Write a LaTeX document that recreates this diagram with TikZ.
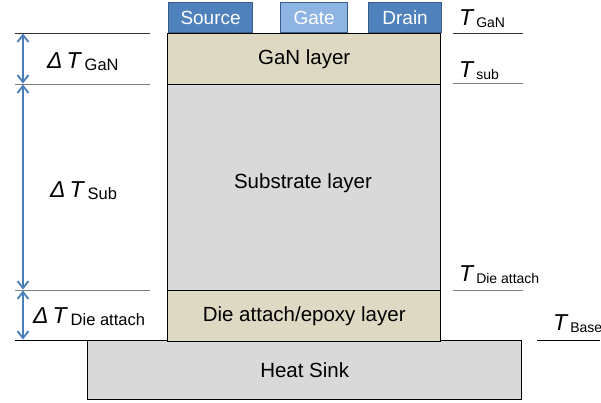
\documentclass[tikz,border=0pt]{standalone}
\usepackage{fontspec}
\setmainfont{Liberation Sans}
\usetikzlibrary{arrows.meta}
\definecolor{tanc}{HTML}{DDD9C3}
\definecolor{lgray}{HTML}{D9D9D9}
\definecolor{metal}{HTML}{4F81BD}
\definecolor{metalb}{HTML}{385D8A}
\definecolor{gatec}{HTML}{8DB4E2}
\definecolor{arrowc}{HTML}{4A7EBB}
\definecolor{linec}{HTML}{555555}
\newcommand{\Tlab}[1]{{\fontsize{23}{23}\selectfont\itshape T}\hspace{3pt}\raisebox{-2.5pt}{\fontsize{14}{14}\selectfont #1}}
\newcommand{\dTlab}[1]{{\fontsize{23}{23}\selectfont\itshape Δ\hspace{4pt}T}\hspace{4pt}\raisebox{-2.5pt}{\fontsize{16.5}{16.5}\selectfont #1}}
\tikzset{
  layer/.style={draw=black, line width=1.4pt, rectangle, inner sep=0pt, anchor=north west, font=\fontsize{20.5}{20.5}\selectfont},
  pad/.style={draw=metalb, line width=1.2pt, fill=metal, rectangle, inner sep=0pt, anchor=north west, text=white, font=\fontsize{19}{19}\selectfont},
  lev/.style={draw=linec, line width=1pt},
  dim/.style={draw=arrowc, line width=1.8pt, {Straight Barb[length=7pt,width=11pt,line width=1.8pt]}-{Straight Barb[length=7pt,width=11pt,line width=1.8pt]}, shorten <=0.5pt, shorten >=0.5pt},
  lab/.style={anchor=base west, inner sep=0pt}
}
\begin{document}
\begin{tikzpicture}[x=1pt,y=-1pt]
\useasboundingbox (0,0) rectangle (601,402);
% layers
\node[layer, fill=lgray, minimum width=434pt, minimum height=59pt] (hs) at (87,340) {Heat Sink};
\node[layer, fill=tanc, minimum width=273pt, minimum height=51pt] (gan) at (167,33) {GaN layer};
\node[layer, fill=lgray, minimum width=273pt, minimum height=206pt] (sub) at (167,84) {};
\node[font=\fontsize{20.5}{20.5}\selectfont] (subt) at (303,183) {Substrate layer};
\node[layer, fill=tanc, minimum width=273pt, minimum height=51pt] (die) at (167,290) {Die attach/epoxy layer};
% pads
\node[pad, minimum width=84pt, minimum height=30pt] (src) at (168,2) {Source};
\node[pad, fill=gatec, minimum width=67pt, minimum height=30pt] (gate) at (280,2) {Gate};
\node[pad, minimum width=73pt, minimum height=30pt] (drn) at (368,2) {Drain};
% left level lines
\coordinate (l1a) at (15,33); \coordinate (l1b) at (150,33);
\coordinate (l2a) at (15,84); \coordinate (l2b) at (150,84);
\coordinate (l3a) at (15,290); \coordinate (l3b) at (150,290);
\coordinate (l4a) at (15,340); \coordinate (l4b) at (87,340);
\draw[lev, draw=black!80] (l1a) -- (l1b);
\draw[lev, draw=gray] (l2a) -- (l2b);
\draw[lev, draw=gray] (l3a) -- (l3b);
\draw[lev, draw=black] (l4a) -- (l4b);
% dimension arrows
\coordinate (a1) at (23,33); \coordinate (a2) at (23,84);
\coordinate (a3) at (23,290); \coordinate (a4) at (23,340);
\draw[dim] (a1) -- (a2);
\draw[dim] (a2) -- (a3);
\draw[dim] (a3) -- (a4);
% left labels
\node[lab] (dgan) at (47,68) {\dTlab{GaN}};
\node[lab] (dsub) at (50,197) {\dTlab{Sub}};
\node[lab] (ddie) at (33,323) {\dTlab{Die attach}};
% right level lines
\coordinate (r1a) at (453,33); \coordinate (r1b) at (523,33);
\coordinate (r2a) at (453,83); \coordinate (r2b) at (523,83);
\coordinate (r3a) at (453,290); \coordinate (r3b) at (523,290);
\coordinate (r4a) at (537,340); \coordinate (r4b) at (600,340);
\draw[lev, draw=black!80] (r1a) -- (r1b);
\draw[lev, draw=gray] (r2a) -- (r2b);
\draw[lev, draw=gray] (r3a) -- (r3b);
\draw[lev, draw=black] (r4a) -- (r4b);
% right labels
\node[lab] (tgan) at (459,25) {\Tlab{GaN}};
\node[lab] (tsub) at (459,77) {\Tlab{sub}};
\node[lab] (tdie) at (459,281) {\Tlab{Die attach}};
\node[lab] (tbase) at (553,330) {\Tlab{Base}};
\end{tikzpicture}
\end{document}
